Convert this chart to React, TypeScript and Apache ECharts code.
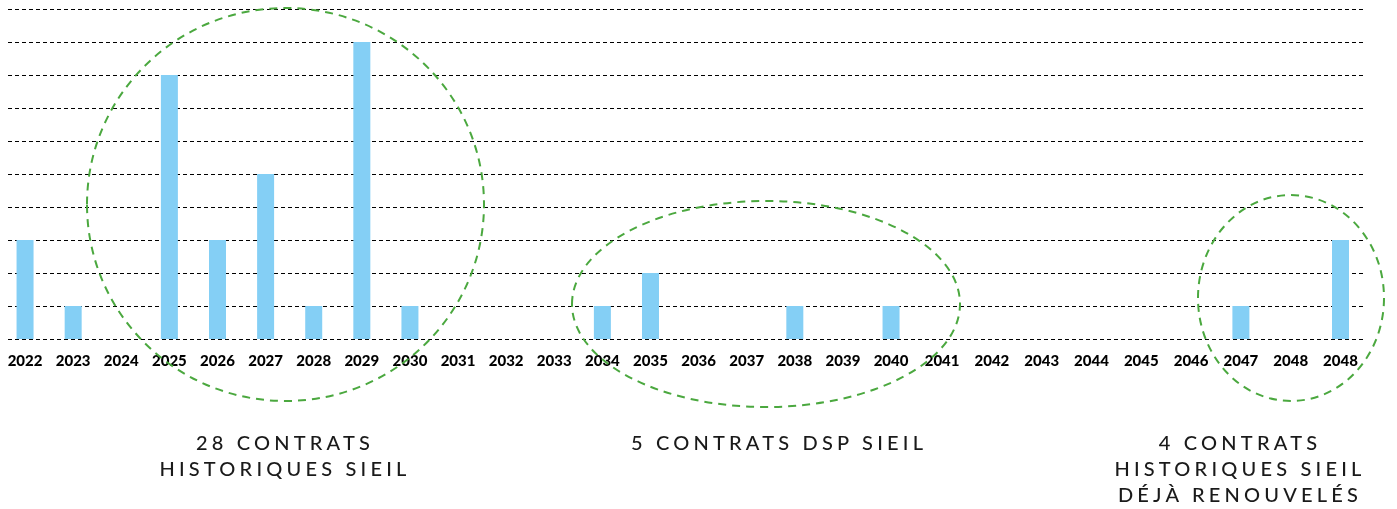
import React, { useEffect, useRef } from "react";
import * as echarts from "echarts";

const years = [
  "2022", "2023", "2024", "2025", "2026", "2027", "2028", "2029", "2030", "2031",
  "2032", "2033", "2034", "2035", "2036", "2037", "2038", "2039", "2040",
  "2041", "2042", "2043", "2044", "2045", "2046", "2047", "2048", "2048",
];
const contracts: (number | null)[] = [
  3, 1, null, 8, 3, 5, 1, 9, 1, null,
  null, null, 1, 2, null, null, 1, null, 1,
  null, null, null, null, null, null, 1, null, 3,
];
const yTicks = { min: 0, max: 10, step: 1 };
const groupLabels = [
  "28 CONTRATS\nHISTORIQUES SIEIL",
  "5 CONTRATS DSP SIEIL",
  "4 CONTRATS\nHISTORIQUES SIEIL\nDÉJÀ RENOUVELÉS",
];

// layout constants
const SPLIT = 19;
const BAR_COLOR = "#84CFF5";
const RING_COLOR = "#4BA83F";
const TOP = 9;
const PLOT_H = 330;

export default function App() {
  const ref = useRef<HTMLDivElement>(null);
  useEffect(() => {
    if (!ref.current) return;
    const chart = echarts.init(ref.current, null, { renderer: "svg" });
    const labelStyle = {
      color: "#000",
      fontFamily: "Lato",
      fontWeight: 900 as const,
      fontSize: 15,
      margin: 13,
      interval: 0,
    };
    const ring = (cx: number, cy: number, rx: number, ry: number) => ({
      type: "ellipse",
      shape: { cx, cy, rx, ry },
      style: { fill: "none", stroke: RING_COLOR, lineWidth: 2, lineDash: [8, 6] },
      silent: true,
      z: 10,
    });
    const label = (x: number, text: string) => ({
      type: "text",
      x,
      y: 429,
      style: {
        text,
        fill: "#1a1a1a",
        fontFamily: "Lato",
        fontWeight: 500,
        fontSize: 20,
        lineHeight: 26,
        align: "center",
        verticalAlign: "top",
      },
    });
    chart.setOption({
      animation: false,
      grid: [
        { left: 1.0, width: 914.1, top: TOP, height: PLOT_H },
        { left: 917.2, width: 448.2, top: TOP, height: PLOT_H },
        { left: 8, width: 1356, top: TOP, height: PLOT_H },
      ],
      xAxis: [
        {
          type: "category", gridIndex: 0, data: years.slice(0, SPLIT),
          axisLine: { show: false }, axisTick: { show: false }, axisLabel: labelStyle,
        },
        {
          type: "category", gridIndex: 1, data: years.slice(SPLIT),
          axisLine: { show: false }, axisTick: { show: false }, axisLabel: labelStyle,
        },
        { type: "value", gridIndex: 2, min: 0, max: 1, show: false },
      ],
      yAxis: [
        { type: "value", gridIndex: 0, min: yTicks.min, max: yTicks.max, interval: yTicks.step, show: false },
        { type: "value", gridIndex: 1, min: yTicks.min, max: yTicks.max, interval: yTicks.step, show: false },
        {
          type: "value", gridIndex: 2, min: yTicks.min, max: yTicks.max, interval: yTicks.step,
          axisLine: { show: false }, axisTick: { show: false }, axisLabel: { show: false },
          splitLine: { show: true, lineStyle: { color: "#000", width: 1, type: [4, 3] } },
        },
      ],
      series: [
        {
          type: "bar", xAxisIndex: 0, yAxisIndex: 0, data: contracts.slice(0, SPLIT),
          barWidth: 17, itemStyle: { color: BAR_COLOR }, z: 3,
        },
        {
          type: "bar", xAxisIndex: 1, yAxisIndex: 1, data: contracts.slice(SPLIT),
          barWidth: 17, itemStyle: { color: BAR_COLOR }, z: 3,
        },
      ],
      graphic: [
        ring(285.5, 204.5, 198.5, 196.5),
        ring(766, 304, 194, 103),
        ring(1291, 298, 93, 103),
        label(285, groupLabels[0]),
        label(779, groupLabels[1]),
        label(1240, groupLabels[2]),
      ],
    });
    const spacing = () => {
      const root = ref.current;
      if (!root) return;
      root.querySelectorAll("text").forEach((t) => {
        const s = t.textContent || "";
        if (/[A-Z]/.test(s)) {
          (t as SVGTextElement).style.letterSpacing = "4.2px";
        }
      });
    };
    spacing();
    chart.on("finished", spacing);
    const id = window.setTimeout(spacing, 50);
    return () => {
      window.clearTimeout(id);
      chart.dispose();
    };
  }, []);
  return (
    <div
      ref={ref}
      style={{ position: "fixed", left: 0, top: 0, width: 1397, height: 509 }}
    />
  );
}
